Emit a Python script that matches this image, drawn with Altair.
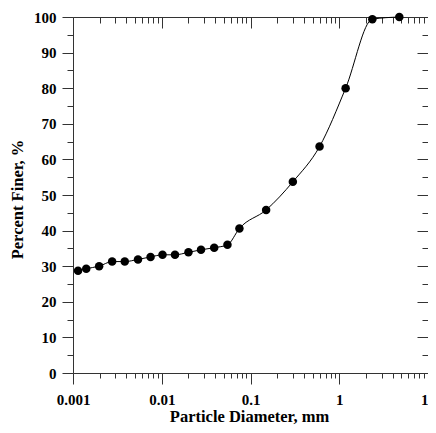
import altair as alt
import pandas as pd

# Particle size distribution
diameter_mm = [0.00114, 0.00141, 0.00197, 0.00276, 0.00383, 0.0054, 0.00748, 0.0102,
               0.0141, 0.0200, 0.0277, 0.039, 0.055, 0.075, 0.150, 0.300, 0.600,
               1.18, 2.36, 4.75]
percent_finer = [28.7, 29.3, 30.0, 31.3, 31.3, 31.9, 32.6, 33.2, 33.2, 33.9, 34.6,
                 35.2, 36.0, 40.6, 45.8, 53.7, 63.6, 80.0, 99.4, 100.0]

decades = [0.001, 0.01, 0.1, 1, 10]
minor_steps = [1, 2, 3, 4, 5, 6, 7, 8, 9]
y_ticks = list(range(0, 101, 5))

x_ticks = sorted(set([round(d * m, 6) for d in decades[:-1] for m in minor_steps] + [10]))

df = pd.DataFrame({"d": diameter_mm, "p": percent_finer})

W, H = 355, 356
FONT = "Liberation Serif"
AX = "#333333"

is_decade = "abs(log(datum.value)/LN10 - round(log(datum.value)/LN10)) < 1e-6"
is_ten = "datum.value % 10 == 0"

xscale = alt.Scale(type="log", domain=[0.001, 10], nice=False)
yscale = alt.Scale(domain=[0, 100], nice=False, zero=False)

x_main = alt.X("d:Q", scale=xscale, title="Particle Diameter, mm",
               axis=alt.Axis(values=x_ticks, orient="bottom",
                             labelExpr=f"({is_decade}) ? format(datum.value, '~g') : ''",
                             tickSize={"condition": {"test": is_decade, "value": 11}, "value": 5},
                             labelPadding=8, labelFlush=False, labelOverlap=False,
                             labelFont=FONT, labelFontSize=15, labelFontWeight="bold",
                             labelColor="black",
                             titleFont=FONT, titleFontSize=16.5, titleFontWeight="bold",
                             titleColor="black", titleX=176, titleY=43,
                             titleBaseline="middle", titleAnchor="middle",
                             domainColor=AX, tickColor=AX, grid=False))
y_main = alt.Y("p:Q", scale=yscale, title="Percent Finer, %",
               axis=alt.Axis(values=y_ticks, orient="left",
                             labelExpr=f"({is_ten}) ? datum.label : ''",
                             tickSize={"condition": {"test": is_ten, "value": 11}, "value": 6},
                             labelPadding=6, labelFlush=False, labelOverlap=False,
                             labelFont=FONT, labelFontSize=15, labelFontWeight="bold",
                             labelColor="black",
                             titleFont=FONT, titleFontSize=16.5, titleFontWeight="bold",
                             titleColor="black", titleX=-56, titleY=182,
                             titleBaseline="middle", titleAnchor="middle",
                             domainColor=AX, tickColor=AX, grid=False))

line = alt.Chart(df).mark_line(color="black", strokeWidth=1, interpolate="monotone").encode(
    x=x_main, y=y_main)
pts = alt.Chart(df).mark_circle(color="black", opacity=1, size=72).encode(
    x=alt.X("d:Q", scale=xscale, axis=None), y=alt.Y("p:Q", scale=yscale, axis=None))

top_axis = alt.Chart(df).mark_point(opacity=0).encode(
    x=alt.X("d:Q", scale=xscale, title=None,
            axis=alt.Axis(values=x_ticks, orient="bottom", offset=-H, labels=False,
                          tickSize={"condition": {"test": is_decade, "value": 11}, "value": 6},
                          domainColor=AX, tickColor=AX, grid=False)),
    y=alt.Y("p:Q", scale=yscale, axis=None))

right_axis = alt.Chart(df).mark_point(opacity=0).encode(
    x=alt.X("d:Q", scale=xscale, axis=None),
    y=alt.Y("p:Q", scale=yscale, title=None,
            axis=alt.Axis(values=y_ticks, orient="left", offset=-W, labels=False,
                          tickSize={"condition": {"test": is_ten, "value": 11}, "value": 6},
                          domainColor=AX, tickColor=AX, grid=False)))

chart = alt.layer(line, pts, top_axis, right_axis).resolve_axis(
    x="independent", y="independent"
).properties(
    width=W, height=H,
    autosize=alt.AutoSizeParams(type="none"),
    padding={"left": 65, "top": 9, "right": 0, "bottom": 52},
    background="white",
).configure_view(stroke=None)

chart.save("out.html", embed_options={"renderer": "svg", "actions": False})
